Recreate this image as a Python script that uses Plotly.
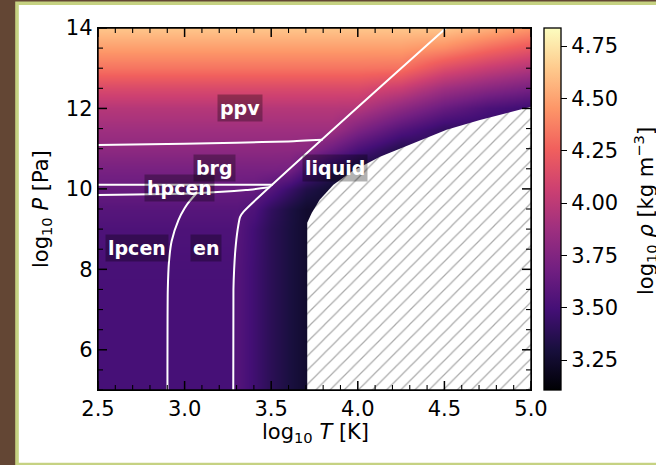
import plotly.graph_objects as go

# ---------------- data ----------------
logT_grid = [2.5, 2.9, 3.27, 3.3, 3.4, 3.5, 3.6, 3.7, 3.85, 4.0, 4.25, 4.5, 4.75, 5.0]
logP_grid = [5, 8, 9, 9.5, 10, 10.5, 11, 11.5, 12, 12.5, 13, 13.5, 14]
log_rho = [
    [3.50, 3.50, 3.50, 3.56, 3.47, 3.38, 3.31, 3.25, 3.24, 3.24, 3.24, 3.24, 3.24, 3.24],
    [3.51, 3.51, 3.51, 3.56, 3.47, 3.38, 3.31, 3.25, 3.24, 3.24, 3.24, 3.24, 3.24, 3.24],
    [3.53, 3.53, 3.53, 3.57, 3.48, 3.38, 3.31, 3.25, 3.24, 3.24, 3.24, 3.24, 3.24, 3.24],
    [3.57, 3.57, 3.57, 3.57, 3.53, 3.41, 3.32, 3.25, 3.24, 3.24, 3.24, 3.24, 3.24, 3.24],
    [3.64, 3.64, 3.64, 3.64, 3.63, 3.56, 3.45, 3.34, 3.26, 3.26, 3.26, 3.26, 3.26, 3.26],
    [3.71, 3.71, 3.71, 3.71, 3.71, 3.71, 3.70, 3.55, 3.38, 3.28, 3.28, 3.30, 3.32, 3.34],
    [3.80, 3.80, 3.80, 3.80, 3.80, 3.80, 3.80, 3.79, 3.66, 3.52, 3.35, 3.38, 3.40, 3.42],
    [3.88, 3.88, 3.88, 3.88, 3.88, 3.88, 3.88, 3.88, 3.88, 3.74, 3.56, 3.42, 3.40, 3.42],
    [3.97, 3.97, 3.97, 3.97, 3.97, 3.97, 3.97, 3.97, 3.97, 3.96, 3.80, 3.64, 3.52, 3.46],
    [4.13, 4.13, 4.13, 4.13, 4.13, 4.13, 4.13, 4.13, 4.13, 4.13, 4.05, 3.88, 3.78, 3.70],
    [4.33, 4.33, 4.33, 4.33, 4.33, 4.33, 4.33, 4.33, 4.33, 4.33, 4.32, 4.15, 4.04, 3.95],
    [4.48, 4.48, 4.48, 4.48, 4.48, 4.48, 4.48, 4.48, 4.48, 4.48, 4.48, 4.42, 4.30, 4.20],
    [4.63, 4.63, 4.63, 4.63, 4.63, 4.63, 4.63, 4.63, 4.63, 4.63, 4.63, 4.63, 4.55, 4.45],
]
rho_min, rho_max = 3.107, 4.836

# phase boundaries (log T, log P)
ppv_brg_T = [2.5, 3.0, 3.3, 3.6, 3.797]
ppv_brg_P = [11.09, 11.12, 11.15, 11.18, 11.22]
brg_hpcen_T = [2.5, 3.509]
brg_hpcen_P = [10.10, 10.10]
hpcen_low_T = [2.5, 3.066, 3.354, 3.49]
hpcen_low_P = [9.85, 9.89, 9.97, 10.04]
lpcen_en_T = [2.901, 2.903, 2.91, 2.925, 2.965, 3.0, 3.03, 3.066]
lpcen_en_P = [5.0, 7.5, 8.2, 8.7, 9.23, 9.52, 9.7, 9.88]
melt_T = [3.281, 3.282, 3.286, 3.293, 3.306, 3.32, 3.342, 4.51]
melt_P = [5.0, 7.5, 8.0, 8.48, 8.98, 9.3, 9.44, 14.0]

# region outside the table (hatched)
hatch_T = [3.708, 3.708, 3.734, 3.78, 3.859, 3.965, 4.128, 4.32, 4.513, 4.705, 4.898, 5.0, 5.0, 3.708]
hatch_P = [5.0, 9.16, 9.40, 9.73, 10.10, 10.43, 10.80, 11.14, 11.47, 11.71, 11.92, 12.04, 5.0, 5.0]

phase_names = ["ppv", "brg", "hpcen", "liquid", "lpcen", "en"]
phase_T = [3.32, 3.17, 2.973, 3.868, 2.725, 3.124]
phase_P = [12.01, 10.52, 10.03, 10.52, 8.53, 8.53]

x_major = [2.5, 3.0, 3.5, 4.0, 4.5, 5.0]
x_minor = [2.6, 2.7, 2.8, 2.9, 3.1, 3.2, 3.3, 3.4, 3.6, 3.7, 3.8, 3.9,
           4.1, 4.2, 4.3, 4.4, 4.6, 4.7, 4.8, 4.9]
y_major = [6, 8, 10, 12, 14]
y_minor = [5.0, 5.5, 6.5, 7.0, 7.5, 8.5, 9.0, 9.5, 10.5, 11.0, 11.5, 12.5, 13.0, 13.5]
cb_ticks = [3.25, 3.50, 3.75, 4.00, 4.25, 4.50, 4.75]

# ---------------- figure ----------------
W, H = 656, 465
L, R, T, B = 98, 125, 28, 75
PW, PH = W - L - R, H - T - B

def px2x(px):
    return (px - L) / PW

def py2y(py):
    return (H - B - py) / PH

FONT = "DejaVu Sans"
fig = go.Figure()

fig.add_trace(go.Heatmap(
    x=logT_grid, y=logP_grid, z=log_rho, zsmooth="best",
    colorscale="Magma", zmin=rho_min, zmax=rho_max,
    colorbar=dict(
        x=px2x(544), xanchor="left", xpad=0, y=0.5, yanchor="middle",
        len=1, lenmode="fraction", ypad=0, thickness=17,
        outlinewidth=1.3, outlinecolor="black",
        tickvals=cb_ticks, ticktext=[f"{v:.2f}" for v in cb_ticks],
        ticks="outside", ticklen=6, tickwidth=1.4, tickcolor="black",
        tickfont=dict(family=FONT, size=21, color="black"),
    ),
    showscale=True, hoverinfo="skip",
))

fig.add_trace(go.Scatter(
    x=hatch_T, y=hatch_P, mode="lines", fill="toself",
    fillcolor="white", line=dict(width=0, color="white"),
    fillpattern=dict(shape="/", fgcolor="#555555", bgcolor="white", size=10, solidity=0.12),
    hoverinfo="skip", showlegend=False,
))

for xs, ys in [(ppv_brg_T, ppv_brg_P), (brg_hpcen_T, brg_hpcen_P), (hpcen_low_T, hpcen_low_P),
               (lpcen_en_T, lpcen_en_P), (melt_T, melt_P)]:
    fig.add_trace(go.Scatter(x=xs, y=ys, mode="lines", line=dict(color="white", width=2, shape="spline", smoothing=0.6),
                             hoverinfo="skip", showlegend=False))

for name, tx, ty in zip(phase_names, phase_T, phase_P):
    fig.add_annotation(x=tx, y=ty, xref="x", yref="y", text=f"<b>{name}</b>", showarrow=False,
                       xanchor="center", yanchor="middle",
                       font=dict(family=FONT, size=19, color="white"),
                       bgcolor="rgba(0,0,0,0.3)", borderpad=2)

axis_common = dict(showgrid=False, zeroline=False, showline=True, linecolor="black", linewidth=1.4,
                   mirror=True, ticks="", layer="above traces",
                   tickfont=dict(family=FONT, size=21, color="black"))

fig.update_xaxes(range=[2.5, 5.0], tickvals=x_major, ticktext=[f"{v:.1f}" for v in x_major], **axis_common)
fig.update_yaxes(range=[5, 14], tickvals=y_major, ticktext=[str(v) for v in y_major], **axis_common)

# tick marks on all four sides (inside), placed through the axes' scales
MAJ, MIN = 9, 5
for v in x_major + x_minor:
    major = v in x_major
    ln, lw = (MAJ, 1.5) if major else (MIN, 1.1)
    fig.add_shape(type="line", xref="x", yref="paper", x0=v, x1=v, y0=0, y1=ln / PH,
                  line=dict(color="black", width=lw))
    fig.add_shape(type="line", xref="x", yref="paper", x0=v, x1=v, y0=1, y1=1 - ln / PH,
                  line=dict(color="black", width=lw))
for v in y_major + y_minor:
    major = v in y_major
    ln, lw = (MAJ, 1.5) if major else (MIN, 1.1)
    fig.add_shape(type="line", xref="paper", yref="y", x0=0, x1=ln / PW, y0=v, y1=v,
                  line=dict(color="black", width=lw))
    fig.add_shape(type="line", xref="paper", yref="y", x0=1, x1=1 - ln / PW, y0=v, y1=v,
                  line=dict(color="black", width=lw))
# plot frame
fig.add_shape(type="rect", xref="paper", yref="paper", x0=0, x1=1, y0=0, y1=1,
              line=dict(color="black", width=1.4), fillcolor="rgba(0,0,0,0)")

# titles
fig.add_annotation(x=px2x(315), y=py2y(433), xref="paper", yref="paper",
                   xanchor="center", yanchor="middle",
                   text="log<sub>10</sub> <i>T</i> [K]", showarrow=False,
                   font=dict(family=FONT, size=21, color="black"))
fig.add_annotation(x=px2x(42), y=py2y(209), xref="paper", yref="paper",
                   xanchor="center", yanchor="middle",
                   text="log<sub>10</sub> <i>P</i> [Pa]", showarrow=False, textangle=-90,
                   font=dict(family=FONT, size=21, color="black"))
fig.add_annotation(x=px2x(645), y=py2y(211), xref="paper", yref="paper",
                   xanchor="center", yanchor="middle",
                   text="log<sub>10</sub> <i>ρ</i> [kg m<sup>−3</sup>]", showarrow=False, textangle=-90,
                   font=dict(family=FONT, size=21, color="black"))

# page frame
fig.add_shape(type="rect", xref="paper", yref="paper", layer="below",
              x0=px2x(17), x1=px2x(720), y0=py2y(464.5), y1=py2y(3.3),
              fillcolor="white", line=dict(color="#c6d282", width=3.6))

fig.update_layout(width=W, height=H, margin=dict(l=L, r=R, t=T, b=B),
                  paper_bgcolor="#634634", plot_bgcolor="white", showlegend=False)

fig.write_html("out.html", config={"displayModeBar": False},
               post_script="document.body.style.margin='0';document.body.style.padding='0';"
                           "document.body.style.background='#634634';document.body.style.overflow='hidden';")
